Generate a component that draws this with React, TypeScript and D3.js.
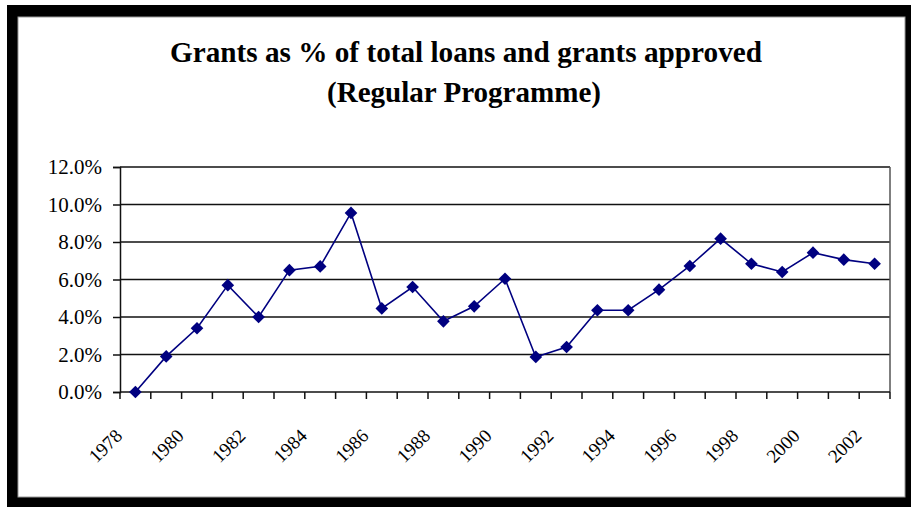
import { useEffect, useRef } from 'react';
import * as d3 from 'd3';

const years = [
  '1978', '1979', '1980', '1981', '1982', '1983', '1984', '1985', '1986', '1987',
  '1988', '1989', '1990', '1991', '1992', '1993', '1994', '1995', '1996', '1997',
  '1998', '1999', '2000', '2001', '2002',
];

// grants as share of total approvals
const grantShare = [
  0.0, 0.019, 0.034, 0.057, 0.04, 0.065, 0.067, 0.0955, 0.0446, 0.056,
  0.0377, 0.0457, 0.0604, 0.0187, 0.024, 0.0436, 0.0436, 0.0546, 0.0672, 0.0818,
  0.0684, 0.064, 0.0743, 0.0706, 0.0684,
];

const yTicks = [0, 0.02, 0.04, 0.06, 0.08, 0.1, 0.12];
const labelYears = years.filter((_, i) => i % 2 === 0);

const titleLines = ['Grants as % of total loans and grants approved', '(Regular Programme)'];

function GrantsChart() {
  const svgRef = useRef<SVGSVGElement | null>(null);
  const width = 911;
  const height = 507;
  const plot = { left: 120, right: 890, top: 167, bottom: 392 };
  const serif = '"Liberation Serif", "Times New Roman", serif';

  useEffect(() => {
    const svg = d3.select(svgRef.current);
    svg.selectAll('*').remove();

    // frame with heavy shadow
    svg.append('rect').attr('x', 7).attr('y', 5).attr('width', 904).attr('height', 502).attr('fill', '#000');
    svg
      .append('rect')
      .attr('x', 18)
      .attr('y', 17)
      .attr('width', 887)
      .attr('height', 480)
      .attr('fill', '#fff')
      .attr('stroke', '#999')
      .attr('stroke-width', 1);

    const title = svg
      .append('text')
      .attr('font-family', serif)
      .attr('font-weight', 'bold')
      .attr('font-size', 30)
      .attr('text-anchor', 'middle')
      .attr('fill', '#000');
    title
      .append('tspan')
      .attr('x', 466)
      .attr('y', 62)
      .attr('textLength', 592)
      .attr('lengthAdjust', 'spacingAndGlyphs')
      .text(titleLines[0]);
    title
      .append('tspan')
      .attr('x', 464)
      .attr('y', 102)
      .attr('textLength', 274)
      .attr('lengthAdjust', 'spacingAndGlyphs')
      .text(titleLines[1]);

    const xScale = d3.scaleBand().domain(years).range([plot.left, plot.right]).padding(0);
    const yScale = d3.scaleLinear().domain([0, 0.12]).range([plot.bottom, plot.top]);

    // gridlines
    svg
      .append('g')
      .selectAll('line')
      .data(yTicks.slice(1))
      .enter()
      .append('line')
      .attr('x1', plot.left)
      .attr('x2', plot.right)
      .attr('y1', (d) => yScale(d))
      .attr('y2', (d) => yScale(d))
      .attr('stroke', '#111')
      .attr('stroke-width', 1.5);

    // right border of plot area
    svg
      .append('line')
      .attr('x1', plot.right)
      .attr('x2', plot.right)
      .attr('y1', plot.top)
      .attr('y2', plot.bottom)
      .attr('stroke', '#555')
      .attr('stroke-width', 1.5);

    // y axis
    const yAxis = d3
      .axisLeft(yScale)
      .tickValues(yTicks)
      .tickFormat(d3.format('.1%'))
      .tickSize(7)
      .tickPadding(11);
    const yg = svg.append<SVGGElement>('g').attr('transform', `translate(${plot.left},0)`).call(yAxis);
    yg.select('.domain').attr('stroke', '#111').attr('stroke-width', 1.5);
    yg.selectAll('.tick line').attr('stroke', '#111').attr('stroke-width', 1.5);
    yg.selectAll('.tick text')
      .attr('font-family', serif)
      .attr('font-size', 21)
      .attr('fill', '#000');

    // x axis: ticks on band boundaries
    const boundaries = years.map((y) => xScale(y) as number).concat([plot.right]);
    const xg = svg.append('g');
    xg.append('line')
      .attr('x1', plot.left)
      .attr('x2', plot.right)
      .attr('y1', plot.bottom)
      .attr('y2', plot.bottom)
      .attr('stroke', '#111')
      .attr('stroke-width', 1.5);
    xg.selectAll('line.tick')
      .data(boundaries)
      .enter()
      .append('line')
      .attr('class', 'tick')
      .attr('x1', (d) => d)
      .attr('x2', (d) => d)
      .attr('y1', plot.bottom)
      .attr('y2', plot.bottom + 7)
      .attr('stroke', '#111')
      .attr('stroke-width', 1.5);
    xg.selectAll('text')
      .data(labelYears)
      .enter()
      .append('text')
      .attr('font-family', serif)
      .attr('font-size', 19)
      .attr('fill', '#000')
      .attr('text-anchor', 'end')
      .attr('transform', (d) => {
        const cx = (xScale(d) as number) + xScale.bandwidth() / 2;
        return `translate(${cx - 12},437) rotate(-45)`;
      })
      .text((d) => d);

    // series
    const line = d3
      .line<number>()
      .x((_, i) => (xScale(years[i]) as number) + xScale.bandwidth() / 2)
      .y((d) => yScale(d));
    svg
      .append('path')
      .datum(grantShare)
      .attr('d', line)
      .attr('fill', 'none')
      .attr('stroke', '#000080')
      .attr('stroke-width', 1.6);

    const diamond = d3.symbol().type(d3.symbolSquare).size(80);
    svg
      .append('g')
      .selectAll('path')
      .data(grantShare)
      .enter()
      .append('path')
      .attr('d', diamond)
      .attr('transform', (d, i) => {
        const cx = (xScale(years[i]) as number) + xScale.bandwidth() / 2;
        return `translate(${cx},${yScale(d)}) rotate(45)`;
      })
      .attr('fill', '#000080');
  }, []);

  return (
    <svg
      ref={svgRef}
      width={width}
      height={height}
      viewBox={`0 0 ${width} ${height}`}
      style={{ position: 'absolute', left: 0, top: 0, background: '#fff' }}
    />
  );
}

export default function App() {
  return <GrantsChart />;
}
